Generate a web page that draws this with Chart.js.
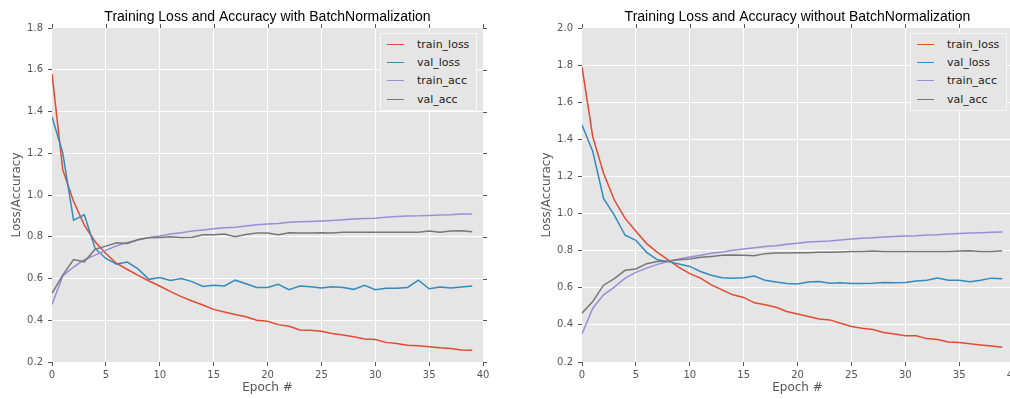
<!DOCTYPE html>
<html lang="en">
<head>
  <meta charset="UTF-8">
  <title>Training Loss and Accuracy</title>
  <script src="https://cdn.jsdelivr.net/npm/chart.js"></script>
  <style>
    body {
      margin: 0;
      background: #ffffff;
    }

    .page {
      position: relative;
      width: 1010px;
      height: 399px;
      overflow: hidden;
    }

    .panel {
      position: absolute;
      top: 0;
      width: 500px;
      height: 399px;
    }

    .legend {
      position: absolute;
      top: 33px;
      left: 380px;
      width: 97px;
      height: 78px;
      box-sizing: border-box;
      padding-top: 1px;
      background: #e5e5e5;
      border: 1px solid #f7f7f7;
      font: 11px 'DejaVu Sans', sans-serif;
      color: #222;
    }

    .legend .row {
      display: flex;
      align-items: center;
      height: 18.4px;
    }

    .legend .swatch {
      width: 17px;
      border-top: 1.5px solid;
      margin-left: 6px;
      margin-right: 13px;
    }
  </style>
</head>
<body>

  <div class="page">
    <div class="panel" style="left: 0px;">
      <canvas id="bnChart" width="500" height="399"></canvas>
      <div class="legend" id="bnLegend"></div>
    </div>
    <div class="panel" style="left: 530px;">
      <canvas id="noBnChart" width="500" height="399"></canvas>
      <div class="legend" id="noBnLegend"></div>
    </div>
  </div>

  <script>
    const epochs = [0, 1, 2, 3, 4, 5, 6, 7, 8, 9, 10, 11, 12, 13, 14, 15, 16, 17, 18, 19,
                    20, 21, 22, 23, 24, 25, 26, 27, 28, 29, 30, 31, 32, 33, 34, 35, 36, 37, 38, 39];
    const seriesNames = ['train_loss', 'val_loss', 'train_acc', 'val_acc'];
    const seriesColors = ['#E24A33', '#348ABD', '#988ED5', '#777777'];
    const xTicks = [0, 5, 10, 15, 20, 25, 30, 35, 40];

    // with BatchNormalization
    const bnTrainLoss = [1.58, 1.12, 0.97, 0.856, 0.776, 0.72, 0.672, 0.643, 0.615, 0.588,
                         0.564, 0.537, 0.513, 0.492, 0.473, 0.452, 0.44, 0.428, 0.417, 0.40,
                         0.395, 0.379, 0.371, 0.353, 0.352, 0.347, 0.337, 0.329, 0.321, 0.31,
                         0.308, 0.294, 0.289, 0.28, 0.278, 0.273, 0.268, 0.265, 0.257, 0.256];
    const bnValLoss = [1.375, 1.2, 0.88, 0.905, 0.744, 0.696, 0.669, 0.679, 0.645, 0.596,
                       0.605, 0.591, 0.6, 0.585, 0.562, 0.568, 0.564, 0.592, 0.575, 0.557,
                       0.557, 0.572, 0.546, 0.564, 0.56, 0.554, 0.561, 0.557, 0.548, 0.567,
                       0.546, 0.553, 0.553, 0.557, 0.592, 0.551, 0.559, 0.554, 0.559, 0.564];
    const bnTrainAcc = [0.476, 0.612, 0.655, 0.69, 0.712, 0.735, 0.757, 0.772, 0.784, 0.797,
                        0.804, 0.813, 0.819, 0.827, 0.832, 0.838, 0.843, 0.846, 0.851, 0.857,
                        0.861, 0.864, 0.869, 0.872, 0.873, 0.875, 0.878, 0.881, 0.885, 0.888,
                        0.889, 0.894, 0.897, 0.899, 0.9, 0.902, 0.904, 0.905, 0.909, 0.909];
    const bnValAcc = [0.529, 0.616, 0.691, 0.68, 0.74, 0.755, 0.771, 0.768, 0.787, 0.795,
                      0.797, 0.80, 0.797, 0.798, 0.81, 0.81, 0.813, 0.80, 0.811, 0.818,
                      0.818, 0.81, 0.819, 0.818, 0.818, 0.819, 0.818, 0.821, 0.821, 0.821,
                      0.821, 0.821, 0.822, 0.822, 0.821, 0.827, 0.821, 0.827, 0.829, 0.824];

    // without BatchNormalization
    const noTrainLoss = [1.79, 1.414, 1.217, 1.073, 0.974, 0.905, 0.838, 0.791, 0.75, 0.71,
                         0.676, 0.652, 0.616, 0.589, 0.562, 0.548, 0.519, 0.508, 0.495, 0.472,
                         0.459, 0.445, 0.432, 0.427, 0.409, 0.391, 0.382, 0.375, 0.359, 0.351,
                         0.341, 0.341, 0.326, 0.321, 0.308, 0.305, 0.299, 0.292, 0.286, 0.279];
    const noValLoss = [1.477, 1.334, 1.082, 0.992, 0.883, 0.856, 0.791, 0.751, 0.741, 0.728,
                       0.715, 0.688, 0.668, 0.654, 0.652, 0.654, 0.663, 0.64, 0.631, 0.623,
                       0.62, 0.631, 0.634, 0.625, 0.627, 0.623, 0.623, 0.625, 0.629, 0.627,
                       0.629, 0.636, 0.641, 0.652, 0.641, 0.641, 0.632, 0.641, 0.652, 0.649];
    const noTrainAcc = [0.351, 0.49, 0.562, 0.604, 0.652, 0.683, 0.706, 0.726, 0.742, 0.755,
                        0.766, 0.775, 0.786, 0.793, 0.802, 0.809, 0.816, 0.822, 0.827, 0.834,
                        0.84, 0.847, 0.85, 0.852, 0.858, 0.863, 0.867, 0.87, 0.874, 0.877,
                        0.879, 0.881, 0.885, 0.886, 0.89, 0.892, 0.895, 0.897, 0.899, 0.9];
    const noValAcc = [0.463, 0.526, 0.614, 0.649, 0.694, 0.701, 0.73, 0.741, 0.744, 0.751,
                      0.755, 0.764, 0.769, 0.775, 0.777, 0.775, 0.773, 0.784, 0.787, 0.787,
                      0.789, 0.789, 0.791, 0.791, 0.793, 0.795, 0.796, 0.798, 0.795, 0.795,
                      0.795, 0.795, 0.796, 0.796, 0.796, 0.798, 0.8, 0.796, 0.796, 0.8];

    const tickFont = { family: 'DejaVu Sans', size: 10 };
    const labelFont = { family: 'DejaVu Sans', size: 12 };

    // grey plot background plus the mirrored ticks on top and right
    const ggplotFrame = {
      id: 'ggplotFrame',
      beforeDraw(chart) {
        const { ctx, chartArea: a } = chart;
        ctx.save();
        ctx.fillStyle = '#e5e5e5';
        ctx.fillRect(a.left, a.top, a.width, a.height);
        ctx.restore();
      },
      afterDraw(chart) {
        const { ctx, chartArea: a } = chart;
        const xs = chart.scales.x, ys = chart.scales.y;
        ctx.save();
        ctx.strokeStyle = '#555555';
        ctx.lineWidth = 1;
        ctx.beginPath();
        xs.ticks.forEach((t, i) => {
          const px = Math.round(xs.getPixelForTick(i)) + 0.5;
          ctx.moveTo(px, a.top);
          ctx.lineTo(px, a.top - 4);
        });
        ys.ticks.forEach((t, i) => {
          const py = Math.round(ys.getPixelForTick(i)) + 0.5;
          ctx.moveTo(a.right, py);
          ctx.lineTo(a.right + 4, py);
        });
        ctx.stroke();
        ctx.restore();
      }
    };

    function edgeGrid(ctx) {
      const n = ctx.scale.ticks.length;
      return (ctx.index === 0 || ctx.index === n - 1) ? 'rgba(0,0,0,0)' : '#ffffff';
    }

    function makeChart(canvasId, legendId, titleText, yMax, series) {
      const datasets = series.map((values, i) => ({
        label: seriesNames[i],
        data: epochs.map((e, j) => ({ x: e, y: values[j] })),
        borderColor: seriesColors[i],
        backgroundColor: seriesColors[i],
        borderWidth: 1.5,
        pointRadius: 0,
        tension: 0,
        order: series.length - i
      }));

      new Chart(document.getElementById(canvasId), {
        type: 'line',
        data: { datasets },
        options: {
          responsive: false,
          animation: false,
          events: [],
          layout: { padding: { top: 0, right: 17, bottom: 0, left: 0 } },
          plugins: {
            legend: { display: false },
            tooltip: { enabled: false },
            title: {
              display: true,
              text: titleText,
              fullSize: false,
              color: '#000000',
              font: { family: 'Liberation Sans', size: 14, weight: 'normal', lineHeight: 1.2 },
              padding: { top: 9, bottom: 2.2 }
            }
          },
          scales: {
            x: {
              type: 'linear',
              min: 0,
              max: 40,
              afterFit(scale) { scale.height = 37; },
              afterBuildTicks(scale) { scale.ticks = xTicks.map(v => ({ value: v })); },
              border: { display: false },
              grid: { color: edgeGrid, tickColor: '#555555', tickLength: 4, lineWidth: 1 },
              ticks: { color: '#555555', font: tickFont, padding: 3, maxRotation: 0 },
              title: { display: true, text: 'Epoch #', color: '#555555', font: labelFont, padding: { top: 0, bottom: 3.5 } }
            },
            y: {
              min: 0.2,
              max: yMax,
              afterFit(scale) { scale.width = 52; },
              border: { display: false },
              grid: { color: edgeGrid, tickColor: '#555555', tickLength: 4, lineWidth: 1 },
              ticks: { stepSize: 0.2, color: '#555555', font: tickFont, padding: 5, callback: v => v.toFixed(1) },
              title: { display: true, text: 'Loss/Accuracy', color: '#555555', font: labelFont, padding: { top: 10, bottom: 0 } }
            }
          }
        },
        plugins: [ggplotFrame]
      });

      const legend = document.getElementById(legendId);
      seriesNames.forEach((name, i) => {
        const row = document.createElement('div');
        row.className = 'row';
        const swatch = document.createElement('span');
        swatch.className = 'swatch';
        swatch.style.borderTopColor = seriesColors[i];
        const label = document.createElement('span');
        label.textContent = name;
        row.appendChild(swatch);
        row.appendChild(label);
        legend.appendChild(row);
      });
    }

    makeChart('bnChart', 'bnLegend', 'Training Loss and Accuracy with BatchNormalization', 1.8,
              [bnTrainLoss, bnValLoss, bnTrainAcc, bnValAcc]);
    makeChart('noBnChart', 'noBnLegend', 'Training Loss and Accuracy without BatchNormalization', 2.0,
              [noTrainLoss, noValLoss, noTrainAcc, noValAcc]);
  </script>

</body>
</html>
